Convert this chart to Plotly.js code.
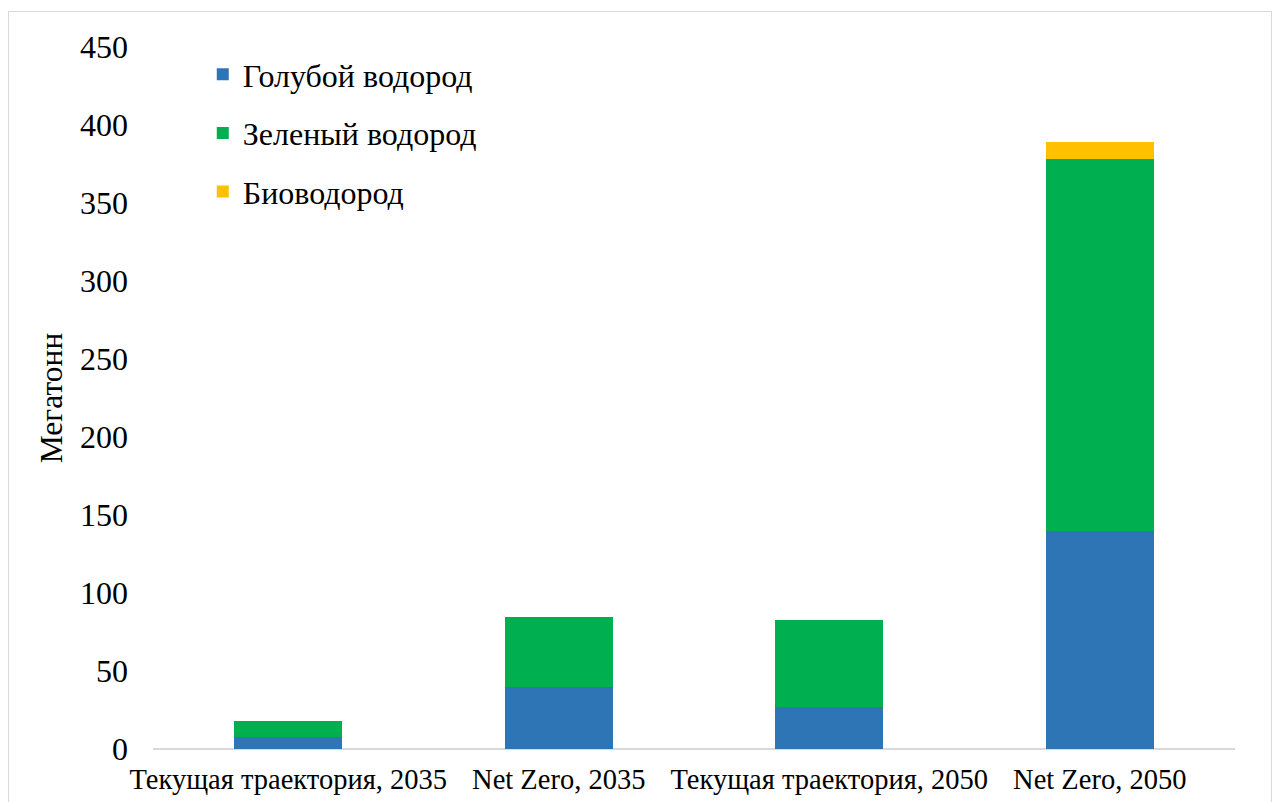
<!DOCTYPE html>
<html><head><meta charset="utf-8">
<script src="https://cdn.plot.ly/plotly-3.0.1.min.js"></script>
<style>body{margin:0;background:#fff}#frame{position:absolute;left:8px;top:11px;width:1262px;height:800px;border:1.5px solid #d9d9d9;pointer-events:none}</style>
</head><body>
<div id="chart" style="width:1279px;height:802px"></div>
<div id="frame"></div>
<script>
const categories = ["Текущая траектория, 2035", "Net Zero, 2035", "Текущая траектория, 2050", "Net Zero, 2050"];
const blueH2 = [7.5, 39.5, 27, 139.5];
const greenH2 = [10.3, 45, 56, 238.5];
const bioH2 = [0, 0, 0, 11];
const seriesNames = ["Голубой водород", "Зеленый водород", "Биоводород"];
const yTicks = [0, 50, 100, 150, 200, 250, 300, 350, 400, 450];

const colors = ["#2E75B6", "#00B050", "#FFC000"];
const vals = [blueH2, greenH2, bioH2];
const traces = vals.map((v, i) => ({
  type: "bar", x: categories, y: v, name: seriesNames[i],
  marker: {color: colors[i], line: {width: 0}}, legendgroup: "g" + i, hoverinfo: "y"
}));

const FONT = "'Liberation Serif', 'Times New Roman', 'DejaVu Serif', serif";
const layout = {
  width: 1279, height: 802,
  margin: {l: 153, r: 44, t: 47, b: 53},
  barmode: "stack", bargap: 0.6,
  paper_bgcolor: "#fff", plot_bgcolor: "#fff",
  font: {family: FONT, color: "#000", size: 28},
  xaxis: {type: "category", showline: false, zeroline: false, showgrid: false, ticks: "",
          tickfont: {family: FONT, size: 28.5}, ticklabelstandoff: 10, automargin: false},
  yaxis: {range: [0, 450], tickvals: yTicks, ticktext: yTicks.map(String), showgrid: false,
          zeroline: true, zerolinecolor: "#d9d9d9", zerolinewidth: 2, showline: false,
          ticks: "", tickfont: {family: FONT, size: 32}, ticklabelstandoff: 24,
          title: {text: "Мегатонн", font: {family: FONT, size: 31.5}, standoff: 7}, automargin: false},
  showlegend: true,
  legend: {x: 0.046, y: 1.0, xanchor: "left", yanchor: "top", traceorder: "grouped",
           tracegroupgap: 14, font: {family: FONT, size: 32}, bgcolor: "rgba(0,0,0,0)", itemwidth: 30}
};
Plotly.newPlot("chart", traces, layout, {displayModeBar: false, staticPlot: true});
</script>
</body></html>
